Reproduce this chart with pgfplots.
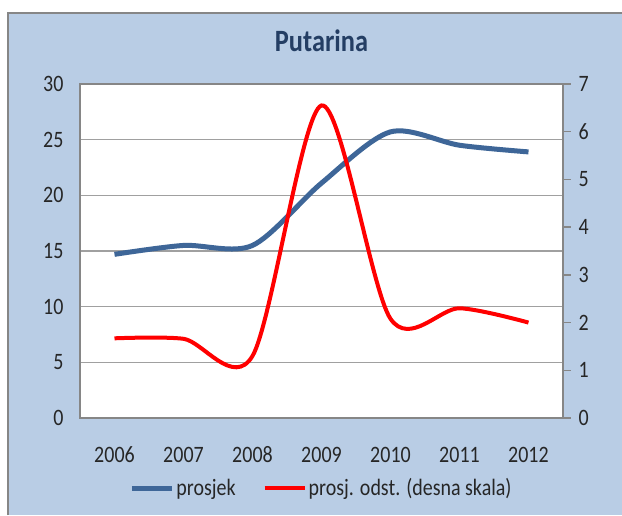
\documentclass[border=0pt]{standalone}
\usepackage{fontspec}
\setmainfont{Carlito}[FakeStretch=0.85]
\usepackage{pgfplots}
\pgfplotsset{compat=1.18}
\definecolor{bgblue}{RGB}{185,205,229}
\definecolor{serblue}{RGB}{62,102,152}
\definecolor{framegray}{RGB}{134,134,134}
\definecolor{gridgray}{RGB}{160,160,160}
\definecolor{titleblue}{RGB}{36,62,100}
\definecolor{serred}{RGB}{255,0,0}

\pgfplotstableread{
x y
0 14.7
1 15.5
2 15.5
3 21.1
4 25.7
5 24.5
6 23.9
}\prosjek

\pgfplotstableread{
x y
0 1.67
1 1.66
2 1.30
3 6.55
4 2.08
5 2.30
6 2.00
}\odst

\begin{document}
\begin{tikzpicture}
\useasboundingbox (-80pt,-97pt) rectangle (542pt,418pt);
\fill[white] (-80pt,-97pt) rectangle (542pt,418pt);
\fill[bgblue] (-72pt,-97pt) rectangle (542pt,405pt);
\draw[framegray, line width=2pt] (-72pt,-97pt) -- (-72pt,405pt) -- (542pt,405pt);

\begin{axis}[
  at={(0pt,0pt)}, anchor=south west,
  scale only axis, width=483pt, height=334pt,
  xmin=-0.5, xmax=6.5, ymin=0, ymax=30,
  xtick={0,...,6},
  xticklabels={2006,2007,2008,2009,2010,2011,2012},
  ytick={0,5,...,30},
  ymajorgrids,
  grid style={gridgray, line width=1.3pt},
  axis line style={framegray, line width=1.3pt},
  axis background/.style={fill=white},
  major tick length=0pt,
  xtick style={draw=none}, ytick style={draw=none},
  /pgf/number format/assume math mode=true,
  tick label style={font=\fontsize{23.5}{28}\selectfont, text=black!85},
  xticklabel style={anchor=center, yshift=-37pt},
  yticklabel style={anchor=east, xshift=-13pt},
  yticklabel pos=left,
  title={Putarina},
  title style={at={(0.5,1)}, anchor=center, yshift=37pt,
    font=\bfseries\fontsize{31}{36}\selectfont, text=titleblue},
]
\addplot[serblue, line width=5pt, smooth, tension=0.5] table[x=x,y=y] {\prosjek};
\end{axis}

\begin{axis}[
  at={(0pt,0pt)}, anchor=south west,
  scale only axis, width=483pt, height=334pt,
  xmin=-0.5, xmax=6.5, ymin=0, ymax=7,
  axis y line*=right, axis x line=none,
  ytick={0,...,7},
  axis line style={framegray, line width=1.3pt},
  ytick style={framegray, line width=1.3pt},
  tick align=outside, major tick length=8pt,
  /pgf/number format/assume math mode=true,
  tick label style={font=\fontsize{23.5}{28}\selectfont, text=black!85},
  yticklabel style={anchor=west, xshift=4pt},
  legend style={at={(0.5,0)}, anchor=center, yshift=-70pt,
    draw=none, fill=none, legend columns=2,
    font=\fontsize{23.5}{28}\selectfont, text=black!85,
    /tikz/every even column/.append style={column sep=25pt}},
  legend image code/.code={\draw[#1] (0pt,0pt) -- (40pt,0pt);},
]
\addlegendimage{serblue, line width=5pt}
\addlegendentry{prosjek}
\addplot[serred, line width=4pt, smooth, tension=0.5] table[x=x,y=y] {\odst};
\addlegendentry{prosj. odst. (desna skala)}
\end{axis}
\end{tikzpicture}
\end{document}
